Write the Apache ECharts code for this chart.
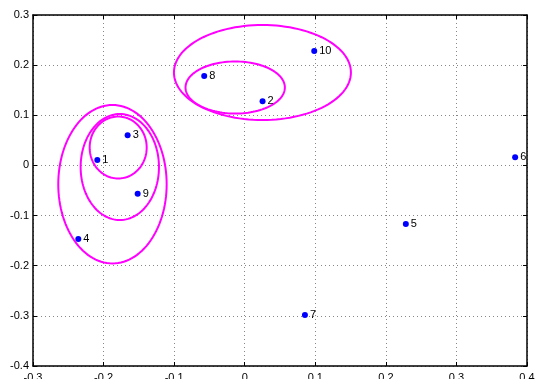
<!DOCTYPE html>
<html><head><meta charset="utf-8">
<script src="https://cdn.jsdelivr.net/npm/echarts@6/dist/echarts.min.js"></script>
<style>html,body{margin:0;padding:0;background:#fff}#c{width:536px;height:379px}</style>
</head><body><div id="c"></div>
<script>
var pointLabels = ['1','2','3','4','5','6','7','8','9','10'];
var pointX = [-0.2089, 0.0253, -0.1659, -0.2358, 0.2283, 0.3832, 0.0853, -0.0574, -0.1517, 0.0985];
var pointY = [0.0108, 0.1279, 0.0601, -0.1468, -0.1168, 0.0162, -0.2983, 0.1783, -0.0564, 0.2282];

var ellipseCX = [-0.1874, -0.1770, -0.1793, 0.0251, -0.0135];
var ellipseCY = [-0.0375, -0.0032, 0.0357, 0.1853, 0.1554];
var ellipseRX = [0.0768, 0.0555, 0.0404, 0.1254, 0.0704];
var ellipseRY = [0.1580, 0.1057, 0.0618, 0.0947, 0.0519];

var xTickMin = -0.3, xTickMax = 0.4, yTickMin = -0.4, yTickMax = 0.3, tickStep = 0.1;

var chart = echarts.init(document.getElementById('c'), null, {renderer: 'canvas'});
var font = 'Liberation Sans, Arial, sans-serif';
var gridLine = {show: true, lineStyle: {color: '#888', width: 1, type: [1, 3]}};

var pts = pointX.map(function (x, i) { return {value: [x, pointY[i]], name: pointLabels[i]}; });
var ell = ellipseCX.map(function (cx, i) { return [cx, ellipseCY[i], ellipseRX[i], ellipseRY[i]]; });

function baseX(pos, show) {
  return {
    type: 'value', position: pos, min: xTickMin, max: xTickMax, interval: tickStep,
    axisLine: {show: true, onZero: false, lineStyle: {color: '#000', width: 1.5}},
    axisTick: {show: true, inside: true, length: 4, lineStyle: {color: '#000'}},
    axisLabel: {show: show, color: '#000', fontSize: 11, fontFamily: font, margin: 6,
      formatter: function (v) { return String(Math.round(v * 10) / 10); }},
    splitLine: show ? gridLine : {show: false}
  };
}
function baseY(pos, show) {
  return {
    type: 'value', position: pos, min: yTickMin, max: yTickMax, interval: tickStep,
    axisLine: {show: true, onZero: false, lineStyle: {color: '#000', width: 1.5}},
    axisTick: {show: true, inside: true, length: 4, lineStyle: {color: '#000'}},
    axisLabel: {show: show, color: '#000', fontSize: 11, fontFamily: font, margin: 4,
      formatter: function (v) { return String(Math.round(v * 10) / 10); }},
    splitLine: show ? gridLine : {show: false}
  };
}

chart.setOption({
  animation: false,
  grid: {left: 33, right: 9, top: 15, bottom: 13, containLabel: false, outerBoundsMode: 'none'},
  xAxis: [baseX('bottom', true), baseX('top', false)],
  yAxis: [baseY('left', true), baseY('right', false)],
  series: [
    {
      type: 'custom',
      data: ell,
      renderItem: function (params, api) {
        var cx = api.value(0), cy = api.value(1), rx = api.value(2), ry = api.value(3);
        var c = api.coord([cx, cy]);
        var px = api.coord([cx + rx, cy])[0] - c[0];
        var py = c[1] - api.coord([cx, cy + ry])[1];
        var points = [];
        for (var k = 0; k <= 120; k++) {
          var t = k / 120 * Math.PI * 2;
          points.push([c[0] + px * Math.cos(t), c[1] + py * Math.sin(t)]);
        }
        return {type: 'polyline', shape: {points: points},
          style: {stroke: '#ff00ff', lineWidth: 2, fill: null}};
      },
      z: 3
    },
    {
      type: 'scatter',
      data: pts,
      symbolSize: 6,
      itemStyle: {color: '#0000ff', opacity: 1},
      label: {show: true, position: 'right', distance: 2, formatter: '{b}',
        color: '#000', fontSize: 11, fontFamily: font},
      z: 4
    }
  ]
});
</script></body></html>
